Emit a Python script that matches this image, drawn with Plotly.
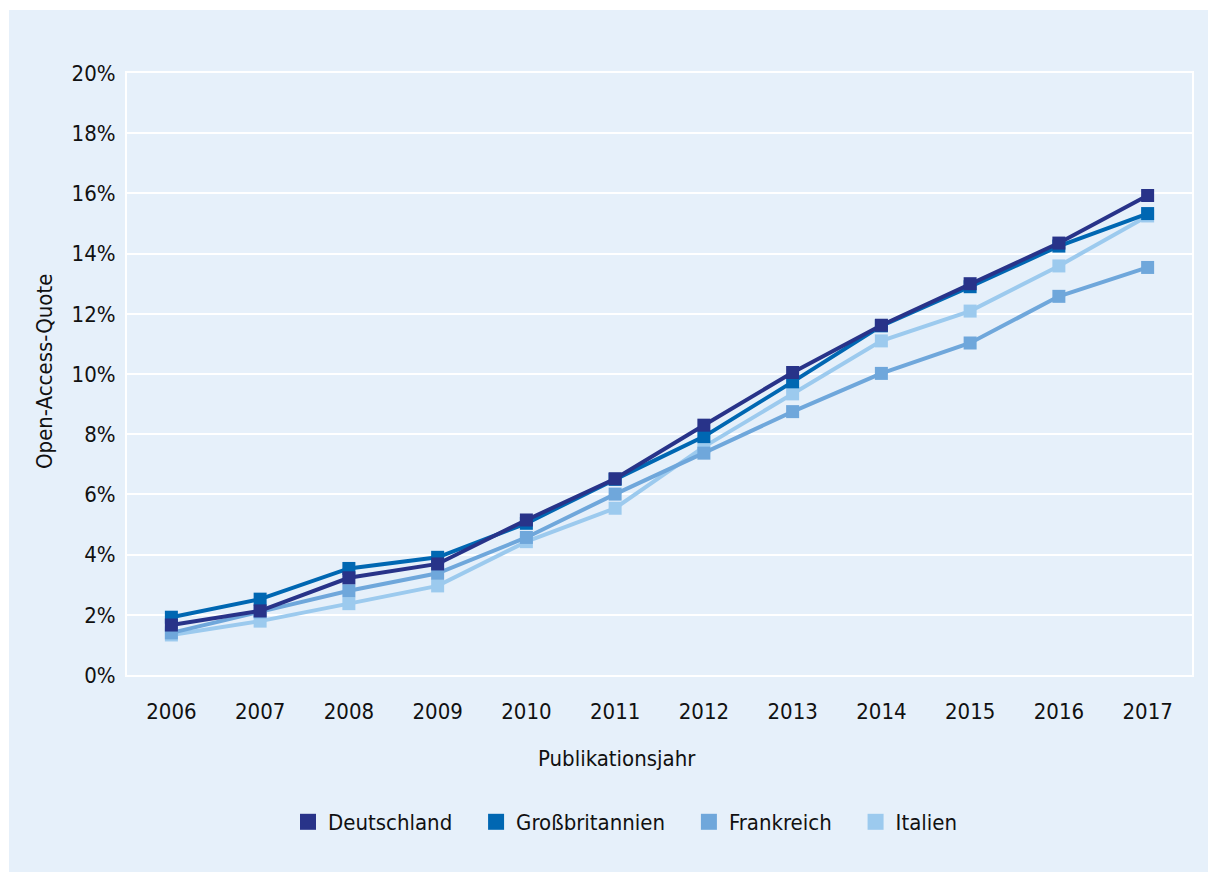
import plotly.graph_objects as go

years = ["2006", "2007", "2008", "2009", "2010", "2011", "2012", "2013", "2014", "2015", "2016", "2017"]
deutschland = [1.66, 2.13, 3.23, 3.69, 5.15, 6.52, 8.30, 10.05, 11.62, 13.0, 14.35, 15.93]
grossbritannien = [1.92, 2.52, 3.54, 3.91, 5.04, 6.50, 7.92, 9.74, 11.60, 12.9, 14.25, 15.33]
frankreich = [1.40, 2.10, 2.80, 3.38, 4.57, 6.01, 7.37, 8.75, 10.02, 11.03, 12.58, 13.54]
italien = [1.33, 1.79, 2.37, 2.96, 4.43, 5.54, 7.58, 9.34, 11.10, 12.09, 13.59, 15.25]

names = ["Deutschland", "Großbritannien", "Frankreich", "Italien"]
series = [deutschland, grossbritannien, frankreich, italien]
colors = ["#283389", "#0067b2", "#6fa7db", "#9ccaee"]
tick_vals = [0, 2, 4, 6, 8, 10, 12, 14, 16, 18, 20]
tick_text = [f"{v}%" for v in tick_vals]

FONT = "Liberation Sans Narrow, DejaVu Sans Condensed, Roboto, sans-serif"
FS = 22
BG = "#e6f0fa"
TXT = "#111111"

fig = go.Figure()

# draw order: Italien, Frankreich, Großbritannien, Deutschland (DE on top)
for i in [3, 2, 1, 0]:
    fig.add_trace(go.Scatter(
        x=years, y=series[i], mode="lines+markers", name=names[i],
        line=dict(color=colors[i], width=4),
        marker=dict(symbol="square", size=13, color=colors[i]),
        showlegend=False, hoverinfo="x+y+name",
    ))

# legend entries (square symbols only); trailing no-break spaces widen item spacing
for i in range(4):
    fig.add_trace(go.Scatter(
        x=[None], y=[None], mode="markers", name=names[i] + "\u00a0" * 3,
        marker=dict(symbol="square", size=17, color=colors[i]),
        showlegend=True,
    ))

W, H = 1208, 872
L, R, T, B = 127, 16, 73, 197
pw, ph = W - L - R, H - T - B

def px_x(p):
    return (p - L) / pw

def px_y(p):
    return (H - B - p) / ph

fig.add_shape(type="rect", xref="paper", yref="paper",
              x0=px_x(9), x1=px_x(W + 5), y0=px_y(H + 5), y1=px_y(10),
              fillcolor=BG, line=dict(width=0), layer="below")

fig.add_annotation(text="Open-Access-Quote", xref="paper", yref="paper",
                   x=px_x(44), y=px_y(372), textangle=-90, showarrow=False,
                   font=dict(family=FONT, size=FS, color=TXT),
                   xanchor="center", yanchor="middle")
fig.add_annotation(text="Publikationsjahr", xref="paper", yref="paper",
                   x=px_x(617), y=px_y(758), showarrow=False,
                   font=dict(family=FONT, size=FS, color=TXT),
                   xanchor="center", yanchor="middle")

fig.update_xaxes(
    type="category", range=[-0.5, 11.5],
    showgrid=False, showline=True, linecolor="white", linewidth=2, mirror=True,
    ticks="outside", ticklen=16, tickcolor="rgba(0,0,0,0)",
    tickfont=dict(family=FONT, size=FS, color=TXT),
    zeroline=False,
)
fig.update_yaxes(
    range=[0, 20], tickvals=tick_vals, ticktext=tick_text,
    showgrid=True, gridcolor="white", gridwidth=2,
    showline=True, linecolor="white", linewidth=2, mirror=True,
    ticks="outside", ticklen=5, tickcolor="rgba(0,0,0,0)",
    tickfont=dict(family=FONT, size=FS, color=TXT),
    zeroline=False,
)

fig.update_layout(
    width=W, height=H,
    margin=dict(l=L, r=R, t=T, b=B, autoexpand=False),
    paper_bgcolor="white", plot_bgcolor=BG,
    font=dict(family=FONT, size=FS, color=TXT),
    legend=dict(orientation="h", x=px_x(288), xanchor="left",
                y=px_y(822), yanchor="middle",
                bgcolor="rgba(0,0,0,0)", font=dict(family=FONT, size=FS, color=TXT),
                itemclick=False),
)

fig.write_html("out.html")
